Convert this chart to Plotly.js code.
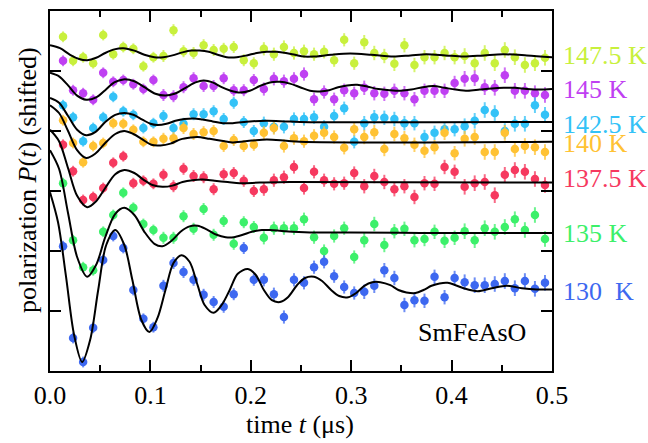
<!DOCTYPE html>
<html>
<head>
<meta charset="utf-8">
<script src="https://cdn.plot.ly/plotly-3.0.1.min.js"></script>
<style>
  html, body { margin: 0; padding: 0; background: #ffffff; }
  #chart { width: 648px; height: 443px; }
</style>
</head>
<body>
<div id="chart"></div>
<script>
// muSR time spectra of SmFeAsO at several temperatures, vertically shifted,
// with the fitted oscillating polarization drawn as black curves.

const temperatures = ['147.5 K', '145 K', '142.5 K', '140 K', '137.5 K', '135 K', '130\u00a0\u00a0K'];
const colors = ['#c8f03c', '#bf40f2', '#33c2f7', '#ffc233', '#f6395f', '#3cf06a', '#3d68f0'];

// measurement times (μs)
const timeUs = [0.013,0.023,0.033,0.043,0.053,0.063,0.073,0.083,0.093,0.103,
                0.113,0.123,0.133,0.143,0.153,0.163,0.173,0.183,0.193,0.203,
                0.213,0.223,0.233,0.243,0.253,0.263,0.273,0.283,0.293,0.303,
                0.313,0.323,0.333,0.343,0.353,0.363,0.373,0.383,0.393,0.403,
                0.413,0.423,0.433,0.443,0.453,0.463,0.473,0.483,0.493];

// statistical uncertainty of each time bin
const errBar = [0.09,0.09,0.09,0.09,0.09,0.09,0.09,0.09,0.09,0.09,
                0.10,0.10,0.10,0.10,0.10,0.10,0.10,0.10,0.10,0.10,
                0.11,0.11,0.11,0.11,0.11,0.11,0.11,0.11,0.11,0.11,
                0.12,0.12,0.12,0.12,0.12,0.12,0.12,0.12,0.12,0.12,
                0.13,0.13,0.13,0.13,0.13,0.13,0.13,0.13,0.13];

// shifted polarization, one list per temperature
const p147 = [5.57,5.17,5.23,5.13,5.60,5.28,5.40,5.37,5.08,5.23,
              5.25,5.68,5.33,5.30,5.43,5.35,5.37,5.40,5.18,5.13,
              5.37,5.28,5.40,5.30,5.33,5.28,5.32,5.18,5.52,5.13,
              5.48,5.30,5.25,5.12,5.43,5.10,5.23,5.23,5.30,5.23,
              5.25,5.13,5.30,5.13,5.35,5.23,5.10,5.13,5.22];
const p145 = [5.17,4.68,4.63,4.52,4.97,4.82,4.85,4.78,4.70,4.85,
              4.60,4.58,4.73,4.88,4.75,4.75,4.88,4.68,4.68,4.85,
              4.70,4.87,4.83,4.87,4.95,4.53,4.65,4.53,4.68,4.63,
              4.72,4.63,4.62,4.67,4.63,4.53,4.67,4.67,4.67,4.80,
              4.87,4.88,4.73,4.72,4.93,4.67,4.67,4.63,4.60];
const p142 = [4.43,4.23,3.83,4.05,4.23,4.57,4.33,4.27,4.05,4.13,
              4.25,4.05,4.12,4.28,4.28,4.33,4.20,4.47,4.15,4.00,
              4.13,4.07,4.07,4.20,4.20,4.23,4.07,4.25,4.38,3.82,
              4.13,4.23,4.22,4.20,4.13,4.13,3.90,3.97,4.03,4.03,
              4.08,4.17,4.35,4.30,4.00,4.12,4.12,4.43,4.27];
const p140 = [4.18,3.80,3.48,3.75,3.80,4.13,4.12,4.02,3.82,3.82,
              3.87,3.88,4.05,3.95,3.98,4.00,3.75,3.85,3.75,3.77,
              3.97,4.05,3.75,3.88,3.83,3.92,3.97,3.90,3.72,4.03,
              3.90,3.98,3.70,3.95,3.88,3.77,3.67,3.73,3.97,3.63,
              3.87,3.90,3.65,3.65,3.97,3.70,3.75,3.73,3.65];
const p137 = [3.77,3.33,2.85,2.90,3.05,3.47,3.58,3.13,3.17,3.12,
              3.27,3.08,3.37,3.25,3.23,3.03,3.28,3.30,3.17,3.00,
              3.03,3.18,3.23,3.40,3.05,3.32,3.18,3.12,3.13,3.30,
              3.08,3.25,3.15,3.03,3.08,2.90,3.13,3.12,3.40,3.32,
              3.07,3.13,3.15,2.93,3.27,3.35,3.32,3.20,3.10];
const p135 = [3.13,2.18,1.73,1.68,2.32,2.60,2.97,2.72,2.45,2.35,
              2.22,2.22,2.58,2.37,2.70,2.27,2.50,2.12,2.48,2.40,
              2.22,2.38,2.38,2.38,2.53,2.23,2.00,2.25,2.38,1.90,
              2.18,2.45,2.10,2.33,2.37,2.18,2.20,2.32,2.17,2.22,
              2.33,2.18,2.38,2.32,2.40,2.53,2.35,2.60,2.20];
const p130 = [2.08,0.55,0.15,0.72,1.85,2.25,2.05,1.35,0.87,0.73,
              1.42,1.80,1.65,1.52,1.27,1.15,1.07,1.28,2.05,1.52,
              1.52,1.28,0.90,1.52,1.47,1.73,1.82,1.58,1.40,1.30,
              1.32,1.42,1.68,1.55,1.10,1.18,1.17,1.57,1.23,1.55,
              1.48,1.43,1.43,1.45,1.50,1.38,1.50,1.37,1.47];

// fitted curves, sampled along time
const fitT147 = [0,0.010,0.020,0.029,0.037,0.046,0.055,0.064,0.073,0.084,0.094,0.104,0.113,0.122,0.132,0.141,0.149,0.158,0.167,0.176,0.186,0.196,0.206,0.216,0.226,0.235,0.244,0.253,0.262,0.280,0.299,0.320,0.342,0.359,0.375,0.394,0.412,0.432,0.451,0.475,0.500];
const fitV147 = [5.43,5.38,5.27,5.20,5.18,5.22,5.30,5.36,5.38,5.34,5.27,5.23,5.23,5.26,5.31,5.34,5.34,5.32,5.27,5.23,5.23,5.26,5.30,5.32,5.32,5.30,5.27,5.24,5.24,5.27,5.29,5.27,5.24,5.26,5.28,5.26,5.24,5.26,5.28,5.26,5.23];

const fitT145 = [0,0.009,0.018,0.027,0.036,0.046,0.055,0.064,0.073,0.084,0.094,0.105,0.115,0.124,0.135,0.145,0.153,0.162,0.171,0.180,0.189,0.199,0.209,0.219,0.229,0.239,0.249,0.259,0.269,0.278,0.287,0.296,0.306,0.316,0.327,0.338,0.349,0.360,0.371,0.382,0.393,0.404,0.416,0.428,0.440,0.452,0.463,0.475,0.488,0.500];
const fitV145 = [4.97,4.91,4.76,4.59,4.52,4.56,4.68,4.81,4.86,4.83,4.73,4.62,4.59,4.62,4.72,4.81,4.84,4.81,4.73,4.67,4.64,4.67,4.75,4.81,4.82,4.79,4.73,4.67,4.66,4.68,4.73,4.76,4.77,4.74,4.70,4.68,4.67,4.69,4.73,4.75,4.72,4.69,4.67,4.69,4.71,4.72,4.72,4.70,4.69,4.70];

const fitT142 = [0,0.009,0.018,0.027,0.036,0.045,0.055,0.065,0.074,0.083,0.092,0.100,0.107,0.116,0.125,0.134,0.143,0.152,0.162,0.172,0.182,0.199,0.216,0.234,0.249,0.500];
const fitV142 = [4.55,4.47,4.25,4.02,3.93,3.98,4.15,4.27,4.30,4.27,4.19,4.12,4.10,4.12,4.17,4.20,4.21,4.19,4.16,4.13,4.13,4.16,4.17,4.16,4.15,4.15];

const fitT140 = [0,0.009,0.018,0.027,0.036,0.045,0.055,0.065,0.074,0.083,0.092,0.101,0.110,0.120,0.130,0.140,0.147,0.159,0.174,0.182,0.201,0.216,0.249,0.500];
const fitV140 = [4.43,4.30,4.00,3.68,3.55,3.62,3.80,3.95,4.00,3.95,3.86,3.77,3.76,3.79,3.86,3.89,3.90,3.87,3.83,3.81,3.84,3.86,3.82,3.82];

const fitT137 = [0,0.009,0.018,0.027,0.037,0.046,0.055,0.065,0.074,0.084,0.093,0.102,0.112,0.122,0.132,0.142,0.152,0.164,0.177,0.189,0.209,0.239,0.500];
const fitV137 = [4.02,3.83,3.38,2.92,2.73,2.83,3.05,3.28,3.35,3.30,3.19,3.10,3.07,3.09,3.15,3.18,3.19,3.17,3.15,3.13,3.14,3.15,3.14];

const fitT135 = [0,0.009,0.018,0.027,0.037,0.046,0.055,0.065,0.074,0.084,0.094,0.104,0.112,0.121,0.130,0.139,0.147,0.156,0.166,0.175,0.183,0.192,0.201,0.211,0.219,0.234,0.259,0.299,0.369,0.500];
const fitV135 = [3.68,3.37,2.63,1.90,1.57,1.77,2.23,2.62,2.72,2.60,2.32,2.12,2.08,2.17,2.32,2.41,2.42,2.36,2.27,2.23,2.23,2.27,2.32,2.35,2.35,2.33,2.31,2.31,2.30,2.30];

const fitT130 = [0,0.008,0.016,0.024,0.032,0.040,0.048,0.056,0.065,0.074,0.082,0.091,0.099,0.107,0.115,0.123,0.131,0.139,0.147,0.154,0.163,0.171,0.179,0.187,0.197,0.205,0.213,0.221,0.229,0.237,0.246,0.254,0.263,0.271,0.280,0.288,0.297,0.305,0.313,0.321,0.329,0.339,0.347,0.355,0.364,0.372,0.380,0.388,0.396,0.404,0.412,0.426,0.440,0.455,0.470,0.485,0.500];
const fitV130 = [2.98,2.48,1.57,0.60,0.15,0.52,1.35,2.10,2.35,2.10,1.52,0.85,0.65,0.88,1.35,1.80,1.93,1.82,1.43,1.10,0.97,1.10,1.35,1.62,1.70,1.60,1.35,1.18,1.15,1.23,1.43,1.55,1.57,1.50,1.35,1.25,1.23,1.30,1.42,1.48,1.48,1.43,1.35,1.31,1.30,1.35,1.42,1.46,1.47,1.43,1.38,1.33,1.38,1.42,1.38,1.36,1.36];

// where each temperature label sits, in polarization units
const labelLevels = [5.26, 4.69, 4.11, 3.79, 3.21, 2.30, 1.33];

const series = [p147, p145, p142, p140, p137, p135, p130];
const fitsT = [fitT147, fitT145, fitT142, fitT140, fitT137, fitT135, fitT130];
const fitsV = [fitV147, fitV145, fitV142, fitV140, fitV137, fitV135, fitV130];

const FONT = '"Liberation Serif", "Times New Roman", Times, serif';

function fade(hex, a) {
  const n = parseInt(hex.slice(1), 16);
  return 'rgba(' + ((n >> 16) & 255) + ',' + ((n >> 8) & 255) + ',' + (n & 255) + ',' + a + ')';
}

const traces = [];
series.forEach((vals, k) => {
  traces.push({
    type: 'scatter', mode: 'markers', x: timeUs, y: vals,
    marker: { color: colors[k], size: 8.5, line: { width: 0 } },
    error_y: { type: 'data', array: errBar, visible: true, color: fade(colors[k], 0.75), thickness: 2, width: 0 },
    hoverinfo: 'skip', showlegend: false
  });
});
fitsT.forEach((tt, k) => {
  traces.push({
    type: 'scatter', mode: 'lines', x: tt, y: fitsV[k],
    line: { color: '#000000', width: 2, shape: 'spline', smoothing: 0.9 },
    hoverinfo: 'skip', showlegend: false
  });
});

const annotations = temperatures.map((name, k) => ({
  text: name, xref: 'paper', yref: 'y', x: 1.0185, y: labelLevels[k],
  xanchor: 'left', yanchor: 'middle', showarrow: false,
  font: { family: FONT, size: 26, color: colors[k] }
}));
annotations.push({
  text: 'SmFeAsO', xref: 'paper', yref: 'paper', x: 0.729, y: 0.108,
  xanchor: 'left', yanchor: 'middle', showarrow: false,
  font: { family: FONT, size: 26, color: '#000000' }
});
annotations.push({
  text: 'time <i>t</i> (μs)', xref: 'paper', yref: 'paper', x: 0.498, y: -0.15,
  xanchor: 'center', yanchor: 'middle', showarrow: false,
  font: { family: FONT, size: 26, color: '#000000' }
});
annotations.push({
  text: 'polarization <i>P</i>(<i>t</i>) (shifted)', xref: 'paper', yref: 'paper',
  x: -0.046, y: 0.53, textangle: -90,
  xanchor: 'center', yanchor: 'middle', showarrow: false,
  font: { family: FONT, size: 26, color: '#000000' }
});

const layout = {
  width: 648, height: 443,
  margin: { l: 50, r: 96, t: 11, b: 72, pad: 0 },
  paper_bgcolor: '#ffffff', plot_bgcolor: '#ffffff',
  showlegend: false,
  xaxis: {
    range: [0, 0.5], tick0: 0, dtick: 0.1, tickformat: '.1f',
    ticks: 'inside', ticklen: 11, tickwidth: 2, tickcolor: '#000000',
    showline: true, linewidth: 2, linecolor: '#000000', mirror: 'ticks',
    showgrid: false, zeroline: false,
    tickfont: { family: FONT, size: 26, color: '#000000' },
    minor: { dtick: 0.05, ticks: 'inside', ticklen: 6, tickwidth: 2, tickcolor: '#000000', showgrid: false }
  },
  yaxis: {
    range: [0, 6], tickvals: [1, 2, 3, 4, 5], showticklabels: false,
    ticks: 'inside', ticklen: 11, tickwidth: 2, tickcolor: '#000000',
    showline: true, linewidth: 2, linecolor: '#000000', mirror: 'ticks',
    showgrid: false, zeroline: false
  },
  annotations: annotations
};

Plotly.newPlot('chart', traces, layout, { staticPlot: true, displayModeBar: false });
</script>
</body>
</html>
